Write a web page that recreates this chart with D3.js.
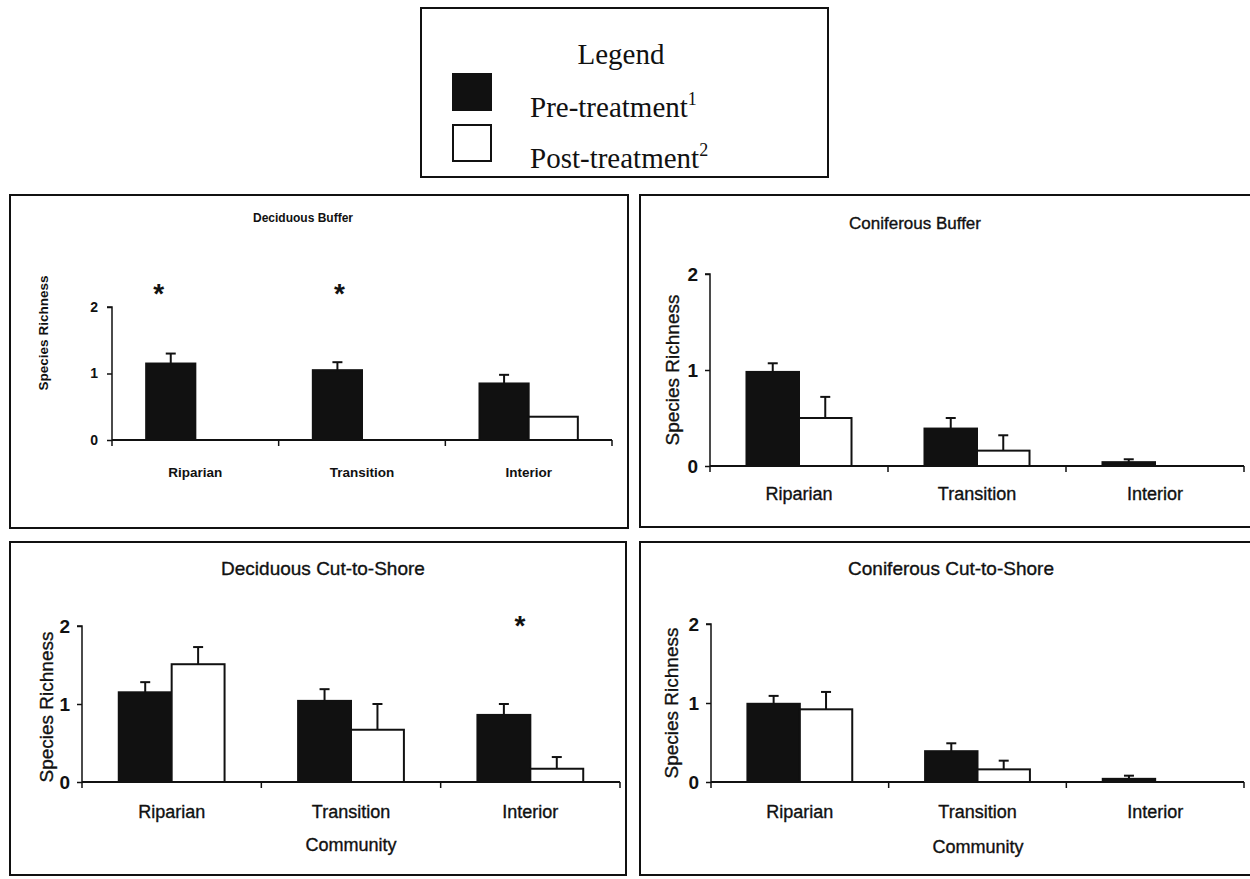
<!DOCTYPE html>
<html>
<head>
<meta charset="utf-8">
<script src="https://cdn.jsdelivr.net/npm/d3@7"></script>
<style>
  html, body { margin: 0; padding: 0; background: #fff; }
  svg { display: block; }
  text { fill: #111; }
</style>
</head>
<body>
<svg id="chart" width="1250" height="879"></svg>
<script>
// Community categories and axis ticks
const categories = ["Riparian", "Transition", "Interior"];
const yTicks = [0, 1, 2];
const seriesNames = ["Pre-treatment", "Post-treatment"];
const seriesSup = ["1", "2"];

// Deciduous Buffer
const decBufferPre = [1.15, 1.05, 0.85];
const decBufferPreErr = [0.15, 0.12, 0.13];
const decBufferPost = [0, 0, 0.35];
const decBufferPostErr = [0, 0, 0];
const decBufferSig = [true, true, false];

// Coniferous Buffer
const conBufferPre = [0.98, 0.39, 0.04];
const conBufferPreErr = [0.09, 0.11, 0.03];
const conBufferPost = [0.50, 0.16, 0];
const conBufferPostErr = [0.22, 0.16, 0];
const conBufferSig = [false, false, false];

// Deciduous Cut-to-Shore
const decCutPre = [1.15, 1.04, 0.86];
const decCutPreErr = [0.13, 0.15, 0.14];
const decCutPost = [1.51, 0.67, 0.17];
const decCutPostErr = [0.22, 0.33, 0.15];
const decCutSig = [false, false, true];

// Coniferous Cut-to-Shore
const conCutPre = [0.99, 0.39, 0.04];
const conCutPreErr = [0.10, 0.10, 0.04];
const conCutPost = [0.92, 0.16, 0];
const conCutPostErr = [0.22, 0.11, 0];
const conCutSig = [false, false, false];

const INK = "#111";
const svg = d3.select("#chart");

// ---- Legend box ----
const lg = svg.append("g");
lg.append("rect").attr("x", 421).attr("y", 8).attr("width", 407).attr("height", 169)
  .attr("fill", "#fff").attr("stroke", INK).attr("stroke-width", 2);
lg.append("text").attr("x", 621).attr("y", 64).attr("text-anchor", "middle")
  .attr("font-family", "Liberation Serif, Times New Roman, serif").attr("font-size", 29)
  .text("Legend");
const legendRows = [{ y: 74, fill: INK }, { y: 125, fill: "#fff" }];
seriesNames.forEach((name, i) => {
  const r = legendRows[i];
  lg.append("rect").attr("x", 453).attr("y", r.y).attr("width", 38).attr("height", 36)
    .attr("fill", r.fill).attr("stroke", INK).attr("stroke-width", 2);
  const t = lg.append("text").attr("x", 530).attr("y", r.y + 43)
    .attr("font-family", "Liberation Serif, Times New Roman, serif").attr("font-size", 29)
    .text(name);
  t.append("tspan").attr("font-size", 18).attr("dy", -12).text(seriesSup[i]);
});

// ---- Panels ----
const panels = [
  {
    title: "Deciduous Buffer", pre: decBufferPre, preErr: decBufferPreErr,
    post: decBufferPost, postErr: decBufferPostErr, sig: decBufferSig,
    box: [10, 195, 628, 528], ax: [112, 612], y0: 440, y2: 307,
    small: true, titlePos: [303, 222], titleSize: 12, ylabX: 43, ylabY: 333, catY: 477,
    community: null, sigNudge: [-12, 2, 0], sigY: 303
  },
  {
    title: "Coniferous Buffer", pre: conBufferPre, preErr: conBufferPreErr,
    post: conBufferPost, postErr: conBufferPostErr, sig: conBufferSig,
    box: [640, 195, 1262, 527], ax: [710, 1244], y0: 466, y2: 274,
    small: false, titlePos: [915, 229], titleSize: 17, ylabX: 672, ylabY: 370, catY: 500,
    community: null, sigNudge: [0, 0, 0], sigY: 0
  },
  {
    title: "Deciduous Cut-to-Shore", pre: decCutPre, preErr: decCutPreErr,
    post: decCutPost, postErr: decCutPostErr, sig: decCutSig,
    box: [10, 542, 626, 875], ax: [82, 620], y0: 782, y2: 626,
    small: false, titlePos: [323, 575], titleSize: 19, ylabX: 46, ylabY: 707, catY: 818,
    community: [351, 851], sigNudge: [0, 0, 16], sigY: 635
  },
  {
    title: "Coniferous Cut-to-Shore", pre: conCutPre, preErr: conCutPreErr,
    post: conCutPost, postErr: conCutPostErr, sig: conCutSig,
    box: [640, 542, 1262, 875], ax: [711, 1244], y0: 782, y2: 624,
    small: false, titlePos: [951, 575], titleSize: 19, ylabX: 671, ylabY: 703, catY: 818,
    community: [978, 853], sigNudge: [0, 0, 0], sigY: 0
  }
];

panels.forEach(p => {
  const g = svg.append("g");
  const [bx0, by0, bx1, by1] = p.box;
  g.append("rect").attr("x", bx0).attr("y", by0).attr("width", bx1 - bx0).attr("height", by1 - by0)
    .attr("fill", "none").attr("stroke", INK).attr("stroke-width", 2);

  const fam = "Liberation Sans, Arial, Helvetica, sans-serif";
  const fw = p.small ? "bold" : "normal";
  const heavy = p.small ? 0 : 0.35;   // slight thickening of regular-weight labels
  const fsTick = p.small ? 14 : 19;
  const fsCat = p.small ? 13.5 : 18;
  const fsLab = p.small ? 13.5 : 19;

  const x = d3.scaleBand().domain(categories).range(p.ax).padding(0);
  const xs = d3.scaleBand().domain(seriesNames).range([x.bandwidth() * 0.205, x.bandwidth() * 0.795]).padding(0);
  const y = d3.scaleLinear().domain([0, 2]).range([p.y0, p.y2]);

  // bars
  const rows = categories.map((c, i) => [
    { cat: c, s: seriesNames[0], v: p.pre[i], e: p.preErr[i], fill: INK },
    { cat: c, s: seriesNames[1], v: p.post[i], e: p.postErr[i], fill: "#fff" }
  ]).flat();

  g.selectAll("rect.bar").data(rows).join("rect").attr("class", "bar")
    .attr("x", d => x(d.cat) + xs(d.s))
    .attr("y", d => y(d.v))
    .attr("width", xs.bandwidth())
    .attr("height", d => y(0) - y(d.v))
    .attr("fill", d => d.fill)
    .attr("stroke", INK).attr("stroke-width", 2);

  // error bars (upper half only)
  const eb = rows.filter(d => d.e > 0);
  const cx = d => x(d.cat) + xs(d.s) + xs.bandwidth() / 2;
  g.selectAll("line.err").data(eb).join("line").attr("class", "err")
    .attr("x1", cx).attr("x2", cx)
    .attr("y1", d => y(d.v)).attr("y2", d => y(d.v + d.e))
    .attr("stroke", INK).attr("stroke-width", 2);
  g.selectAll("line.cap").data(eb).join("line").attr("class", "cap")
    .attr("x1", d => cx(d) - 5).attr("x2", d => cx(d) + 5)
    .attr("y1", d => y(d.v + d.e)).attr("y2", d => y(d.v + d.e))
    .attr("stroke", INK).attr("stroke-width", 2);

  // x axis: baseline with ticks at category boundaries
  const xAxis = g.append("g").attr("transform", `translate(0,${p.y0})`);
  xAxis.append("line").attr("x1", p.ax[0]).attr("x2", p.ax[1]).attr("y1", 0).attr("y2", 0)
    .attr("stroke", INK).attr("stroke-width", 2);
  const bounds = categories.map(c => x(c)).concat([p.ax[1]]);
  xAxis.selectAll("line.tk").data(bounds).join("line").attr("class", "tk")
    .attr("x1", d => d).attr("x2", d => d).attr("y1", 0).attr("y2", 6)
    .attr("stroke", INK).attr("stroke-width", 1.5);
  xAxis.selectAll("text.cat").data(categories).join("text").attr("class", "cat")
    .attr("x", d => x(d) + x.bandwidth() / 2)
    .attr("y", p.catY - p.y0)
    .attr("text-anchor", "middle")
    .attr("font-family", fam).attr("font-weight", fw).attr("font-size", fsCat)
    .attr("stroke", INK).attr("stroke-width", heavy)
    .text(d => d);

  // y axis
  const yAxis = d3.axisLeft(y).tickValues(yTicks).tickFormat(d3.format("d")).tickSize(5).tickPadding(p.small ? 9 : 7);
  const ya = g.append("g").attr("transform", `translate(${p.ax[0]},0)`).call(yAxis);
  ya.select(".domain").attr("stroke", INK).attr("stroke-width", 1.5).attr("d", `M-5,${p.y2}H0V${p.y0}`);
  ya.selectAll(".tick line").attr("stroke", INK).attr("stroke-width", 1.5);
  ya.selectAll(".tick text").attr("font-family", fam).attr("font-weight", "bold")
    .attr("font-size", fsTick).attr("fill", INK);

  // y label
  g.append("text")
    .attr("transform", `translate(${p.ylabX},${p.ylabY}) rotate(-90)`)
    .attr("text-anchor", "middle").attr("dominant-baseline", "central")
    .attr("font-family", fam).attr("font-weight", fw).attr("font-size", fsLab)
    .attr("stroke", INK).attr("stroke-width", heavy)
    .text("Species Richness");

  // title
  g.append("text").attr("x", p.titlePos[0]).attr("y", p.titlePos[1])
    .attr("text-anchor", "middle")
    .attr("font-family", fam).attr("font-weight", fw).attr("font-size", p.titleSize)
    .attr("stroke", INK).attr("stroke-width", heavy)
    .text(p.title);

  // x label
  if (p.community) {
    g.append("text").attr("x", p.community[0]).attr("y", p.community[1])
      .attr("text-anchor", "middle")
      .attr("font-family", fam).attr("font-size", 18)
      .attr("stroke", INK).attr("stroke-width", heavy)
      .text("Community");
  }

  // significance markers above the pre-treatment bar
  const sigIdx = categories.map((c, i) => i).filter(i => p.sig[i]);
  g.selectAll("text.sig").data(sigIdx).join("text").attr("class", "sig")
    .attr("x", i => x(categories[i]) + xs(seriesNames[0]) + xs.bandwidth() / 2 + p.sigNudge[i])
    .attr("y", p.sigY)
    .attr("text-anchor", "middle")
    .attr("font-family", fam).attr("font-weight", "bold").attr("font-size", 28)
    .text("*");
});
</script>
</body>
</html>
